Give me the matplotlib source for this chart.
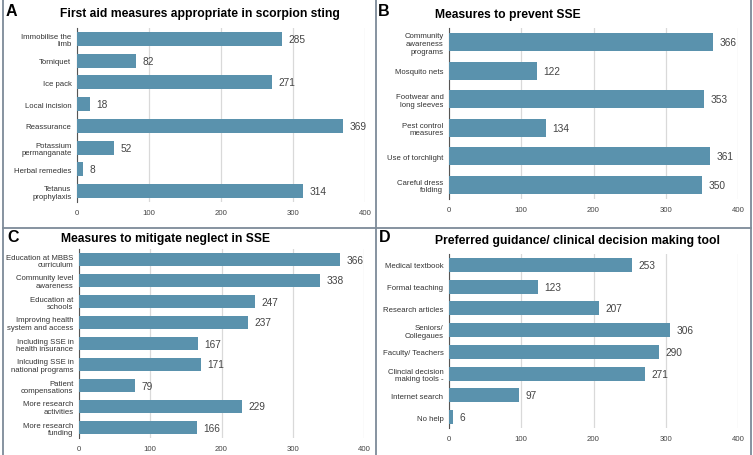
import matplotlib
matplotlib.use('Agg')
from matplotlib import pyplot as plt
from matplotlib.lines import Line2D

plt.rcParams['font.family'] = ['Liberation Sans', 'DejaVu Sans']

# panel A
a_labels = ['Immobilise the\nlimb', 'Torniquet', 'Ice pack', 'Local incision', 'Reassurance',
            'Potassium\npermanganate', 'Herbal remedies', 'Tetanus\nprophylaxis']
a_values = [285, 82, 271, 18, 369, 52, 8, 314]

# panel B
b_labels = ['Community\nawareness\nprograms', 'Mosquito nets', 'Footwear and\nlong sleeves',
            'Pest control\nmeasures', 'Use of torchlight', 'Careful dress\nfolding']
b_values = [366, 122, 353, 134, 361, 350]

# panel C
c_labels = ['Education at MBBS\ncurriculum', 'Community level\nawareness', 'Education at\nschools',
            'Improving health\nsystem and access', 'Including SSE in\nhealth insurance',
            'Inlcuding SSE in\nnational programs', 'Patient\ncompensations',
            'More research\nactivities', 'More research\nfunding']
c_values = [366, 338, 247, 237, 167, 171, 79, 229, 166]

# panel D
d_labels = ['Medical textbook', 'Formal teaching', 'Research articles', 'Seniors/\nCollegaues',
            'Faculty/ Teachers', 'Clincial decision\nmaking tools -', 'Internet search', 'No help']
d_values = [253, 123, 207, 306, 290, 271, 97, 6]

W, H = 753, 456
fig = plt.figure(figsize=(W / 100, H / 100), dpi=100)
BAR = '#5a92ad'


def px_axes(l, t, r, b):
    return fig.add_axes([l / W, 1 - b / H, (r - l) / W, (b - t) / H])


def panel(box, labels, values, letter, title, tx, ty, lx, ly, bh):
    ax = px_axes(*box)
    y = list(range(len(values)))
    ax.barh(y, values, height=bh, color=BAR, zorder=3)
    ax.set_ylim(len(values) - 0.5, -0.5)
    ax.set_xlim(0, 400)
    ax.set_xticks([0, 100, 200, 300, 400])
    ax.set_yticks(y)
    ax.set_yticklabels(labels, fontsize=5.6, color='#333333', linespacing=1.1)
    ax.tick_params(axis='x', length=0, labelsize=5.6, labelcolor='#444444', pad=5)
    ax.tick_params(axis='y', length=0, pad=4)
    ax.grid(axis='x', color='#d9d9d9', linewidth=0.9, zorder=0)
    for s in ['top', 'right', 'bottom']:
        ax.spines[s].set_visible(False)
    ax.spines['left'].set_color('#555555')
    ax.spines['left'].set_linewidth(0.8)
    for yy, v in zip(y, values):
        ax.text(v + 9, yy, str(v), va='center', ha='left', fontsize=7.3, color='#444444')
    fig.text(lx / W, 1 - ly / H, letter, fontsize=11.5, fontweight='bold', va='center', ha='left')
    fig.text(tx / W, 1 - ty / H, title, fontsize=8.7, fontweight='bold', va='center', ha='left')
    return ax


panel((77, 29, 365, 203), a_labels, a_values, 'A',
      'First aid measures appropriate in scorpion sting', 60, 14, 6, 12, 0.65)
panel((449, 29, 738, 200), b_labels, b_values, 'B',
      'Measures to prevent SSE', 435, 15, 378, 12, 0.64)
panel((79, 250, 364, 439), c_labels, c_values, 'C',
      'Measures to mitigate neglect in SSE', 61, 239, 7, 238, 0.64)
panel((449, 255, 738, 429), d_labels, d_values, 'D',
      'Preferred guidance/ clinical decision making tool', 435, 241, 379, 238, 0.65)

# panel frames
bc = '#7d8a98'
for xs, ys in [((3, 3), (0, 456)), ((751, 751), (0, 456)),
               ((376, 376), (0, 456)), ((3, 751), (229, 229))]:
    fig.add_artist(Line2D([x / W for x in xs], [1 - v / H for v in ys],
                          color=bc, linewidth=1.3))

fig.savefig('out.png', dpi=100)
